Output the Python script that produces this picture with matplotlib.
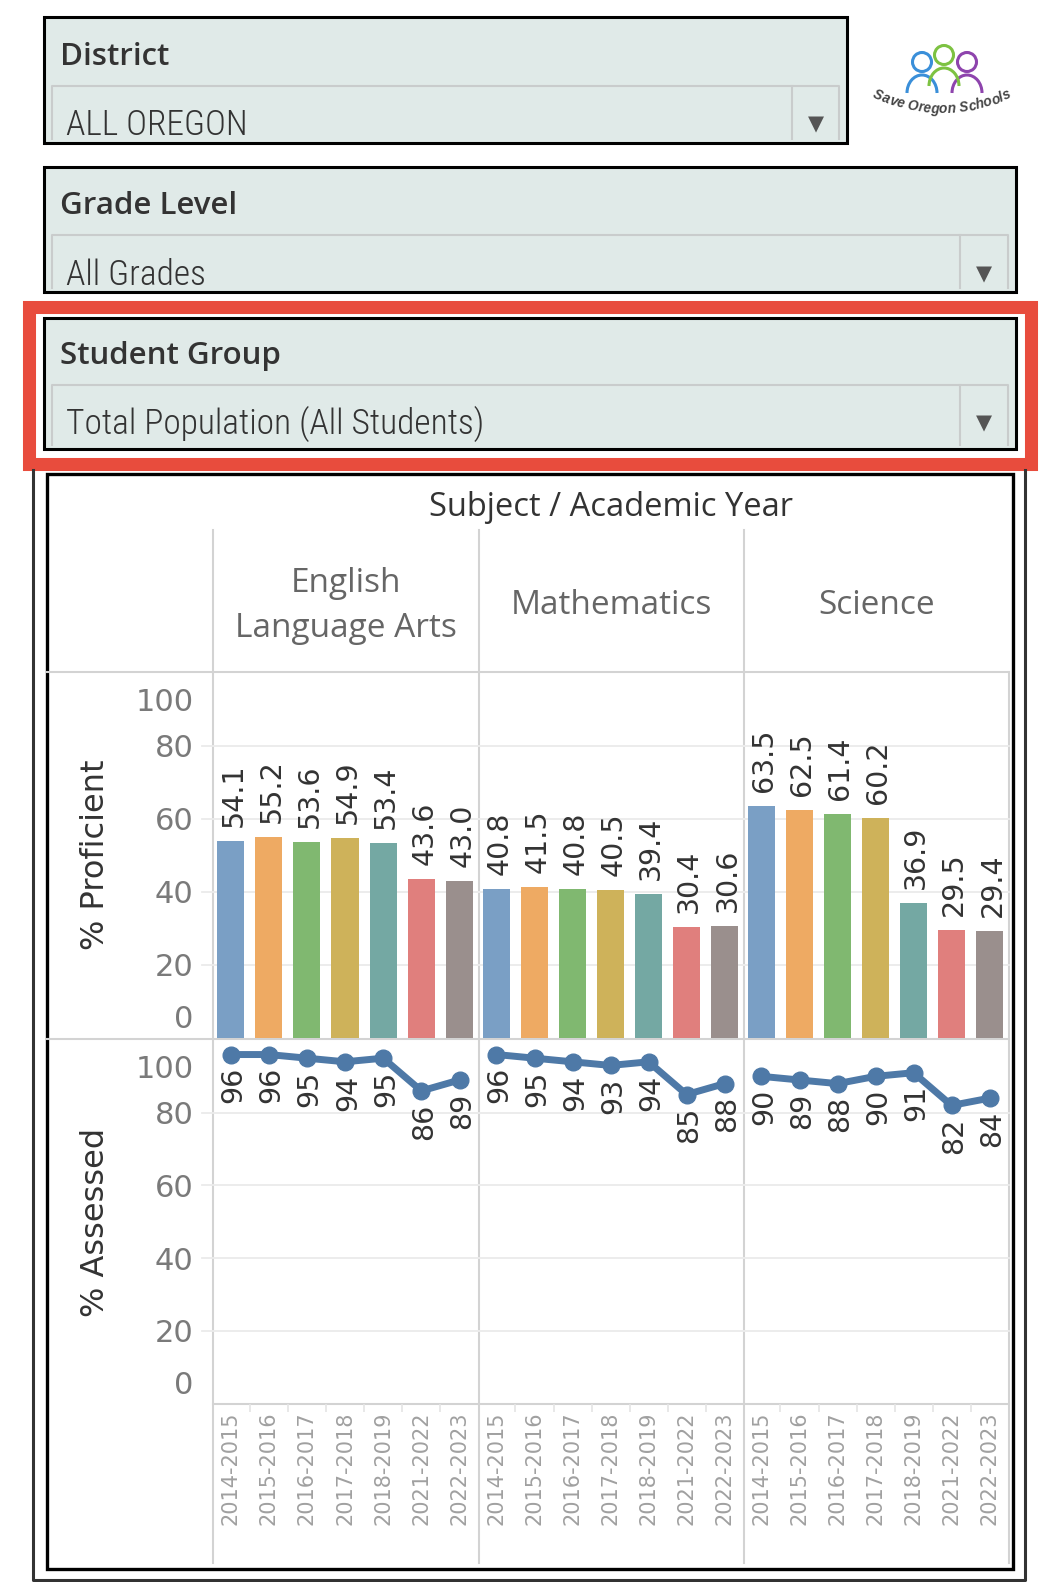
import numpy as np
import matplotlib
matplotlib.use('Agg')
import matplotlib.pyplot as plt
from matplotlib import font_manager
from matplotlib.font_manager import FontProperties
from matplotlib.textpath import TextToPath
from matplotlib.patches import Rectangle, Circle, Arc
from matplotlib.transforms import ScaledTranslation

years = ['2014-2015', '2015-2016', '2016-2017', '2017-2018', '2018-2019', '2021-2022', '2022-2023']
subjects = ['English\nLanguage Arts', 'Mathematics', 'Science']
proficient_ela = [54.1, 55.2, 53.6, 54.9, 53.4, 43.6, 43.0]
proficient_math = [40.8, 41.5, 40.8, 40.5, 39.4, 30.4, 30.6]
proficient_sci = [63.5, 62.5, 61.4, 60.2, 36.9, 29.5, 29.4]
assessed_ela = [96, 96, 95, 94, 95, 86, 89]
assessed_math = [96, 95, 94, 93, 94, 85, 88]
assessed_sci = [90, 89, 88, 90, 91, 82, 84]
year_colors = ['#7a9fc5', '#eeaa63', '#80b870', '#ceb25a', '#74a8a3', '#e07f7d', '#9a8f8d']
y_ticks = [0, 20, 40, 60, 80, 100]

W, H = 1058, 1582
fig = plt.figure(figsize=(W / 100, H / 100), dpi=100)
fig.patch.set_facecolor('white')

names = {f.name for f in font_manager.fontManager.ttflist}
narrow = 'DejaVu Sans'
for cand in ['Roboto Condensed', 'Liberation Sans Narrow', 'Open Sans Condensed', 'Liberation Sans']:
    if cand in names:
        narrow = cand
        break
head_font = 'Open Sans' if 'Open Sans' in names else 'DejaVu Sans'

# background layer in pixel coordinates
bg = fig.add_axes([0, 0, 1, 1])
bg.set_xlim(0, W)
bg.set_ylim(H, 0)
bg.axis('off')


def px_axes(x0, y0, x1, y1):
    return fig.add_axes([x0 / W, 1 - y1 / H, (x1 - x0) / W, (y1 - y0) / H])


def dropdown(x0, y0, x1, y1, title, title_y, value, value_y, inner_top, divider):
    bg.add_patch(Rectangle((x0, y0), x1 - x0, y1 - y0, fc='#e0eae8', ec='black', lw=2.2))
    bg.plot([x0 + 8, x0 + 8, x1 - 8, x1 - 8], [y1 - 4, inner_top, inner_top, y1 - 4],
            color='#c9cccc', lw=1.5)
    bg.plot([divider, divider], [inner_top, y1 - 4], color='#c9cccc', lw=1.5)
    bg.text(x0 + 16, title_y, title, fontsize=22.5, family=head_font, weight='semibold',
            color='#333333', va='center', ha='left')
    bg.text(x0 + 22, value_y, value, fontsize=25.5, family=narrow, weight='light',
            color='#333333', va='center', ha='left')
    bg.text((divider + x1 - 8) / 2, value_y - 1, '\u25bc', fontsize=15, family='DejaVu Sans',
            color='#555555', ha='center', va='center')


dropdown(44, 17, 847, 143, 'District', 57, 'ALL OREGON', 125, 86, 792)
dropdown(44, 167, 1016, 292, 'Grade Level', 206, 'All Grades', 275, 235, 960)
dropdown(44, 318, 1016, 449, 'Student Group', 356, 'Total Population (All Students)', 424, 385, 960)

# red highlight frame
bg.add_patch(Rectangle((28.5, 306.5), 1002, 157, fc='none', ec='#e84c3d', lw=9.4))

# logo
for hx, hy, c in [(922, 62, '#3a8fd9'), (967, 62, '#8e44ad'), (944, 55, '#7dc242')]:
    bg.add_patch(Circle((hx, hy), 9.5, fill=False, ec=c, lw=2.2))
    bg.add_patch(Arc((hx, hy + 31), 30, 36, theta1=180, theta2=360, ec=c, lw=2.2))
logo_text = 'Save Oregon Schools'
logo_prop = FontProperties(family='Liberation Sans', weight='bold', style='italic', size=9.8)
t2p = TextToPath()
adv = np.array([t2p.get_text_width_height_descent(ch, logo_prop, ismath=False)[0]
                for ch in logo_text]) * 100 / 72
cx, cy, R = 942, -50, 159
arc_pos = np.cumsum(adv) - adv / 2 - adv.sum() / 2
for ch, s in zip(logo_text, arc_pos):
    t = s / R
    bg.text(cx + R * np.sin(t), cy + R * np.cos(t), ch, rotation=np.degrees(t),
            rotation_mode='anchor', ha='center', va='center', fontproperties=logo_prop,
            color='#444444')

# chart frames
bg.plot([33, 33, 1025, 1025], [470, 1580, 1580, 470], color='#333333', lw=2.2)
bg.add_patch(Rectangle((47, 474), 966, 1095, fc='none', ec='black', lw=2.4))

grid_c = '#d3d3d3'
for x in [213, 479, 744]:
    bg.plot([x, x], [530, 1563], color=grid_c, lw=1.5)
bg.plot([1009, 1009], [672, 1563], color=grid_c, lw=1.5)
bg.plot([47, 1009], [672, 672], color=grid_c, lw=1.5)
bg.plot([47, 1009], [1039, 1039], color=grid_c, lw=1.5)
bg.plot([213, 1009], [1404, 1404], color=grid_c, lw=1.5)

bg.text(611, 507, 'Subject / Academic Year', fontsize=23.5, family=head_font,
        color='#333333', ha='center', va='center')
cols = [(213, 479), (479, 744), (744, 1009)]
for (x0, x1), s in zip(cols, subjects):
    bg.text((x0 + x1) / 2, 606, s, fontsize=24, family=head_font, color='#666666',
            ha='center', va='center', linespacing=1.5)

bg.text(95, 855, '% Proficient', rotation=90, fontsize=23, family='DejaVu Sans',
        color='#333333', ha='center', va='center')
bg.text(95, 1222, '% Assessed', rotation=90, fontsize=23, family='DejaVu Sans',
        color='#333333', ha='center', va='center')

proficient = [proficient_ela, proficient_math, proficient_sci]
assessed = [assessed_ela, assessed_math, assessed_sci]
xpos = np.arange(len(years))

for i, (x0, x1) in enumerate(cols):
    axb = px_axes(x0, 673, x1, 1038)
    axl = px_axes(x0, 1040, x1, 1403.5)
    for ax in (axb, axl):
        ax.set_facecolor('none')
        for sp in ax.spines.values():
            sp.set_visible(False)
        ax.set_xlim(-0.46, 6.51)
        ax.set_ylim(0, 100)
        for g in y_ticks[1:-1]:
            ax.axhline(g, color='#ebebeb', lw=1.3, zorder=0,
                       xmin=(-0.041 if i == 0 else 0), clip_on=False)
        if i == 0:
            ax.set_yticks(y_ticks)
            ax.tick_params(axis='y', length=0, pad=14, labelsize=22, labelcolor='#7a7a7a')
            ticks = ax.yaxis.get_major_ticks()
            ticks[-1].label1.set_transform(ticks[-1].label1.get_transform()
                                           + ScaledTranslation(0, -0.27, fig.dpi_scale_trans))
            ticks[0].label1.set_transform(ticks[0].label1.get_transform()
                                          + ScaledTranslation(0, 0.21, fig.dpi_scale_trans))
        else:
            ax.set_yticks([])

    axb.set_xticks([])
    axb.bar(xpos, proficient[i], width=0.71, color=year_colors, zorder=2)
    for xp, v in zip(xpos, proficient[i]):
        axb.annotate(f'{v:.1f}', (xp, v), xytext=(2, 10), textcoords='offset points',
                     rotation=90, ha='center', va='bottom', fontsize=20.5, color='#333333',
                     family='DejaVu Sans')

    axl.plot(xpos, assessed[i], color='#4e79a7', lw=5, marker='o', ms=12,
             zorder=3, clip_on=False)
    for xp, v in zip(xpos, assessed[i]):
        axl.annotate(f'{v}', (xp, v), xytext=(2, -9), textcoords='offset points',
                     rotation=90, ha='center', va='top', fontsize=20.5, color='#333333',
                     family='DejaVu Sans')
    axl.set_xticks(xpos)
    axl.set_xticklabels(years, rotation=90, fontsize=15, color='#a0a0a0', family='DejaVu Sans')
    axl.set_xticks(xpos[:-1] + 0.5, minor=True)
    axl.tick_params(axis='x', which='major', length=0, pad=6)
    axl.tick_params(axis='x', which='minor', length=6, width=1.2, color='#e4e4e4')

fig.savefig('out.png', dpi=100)
